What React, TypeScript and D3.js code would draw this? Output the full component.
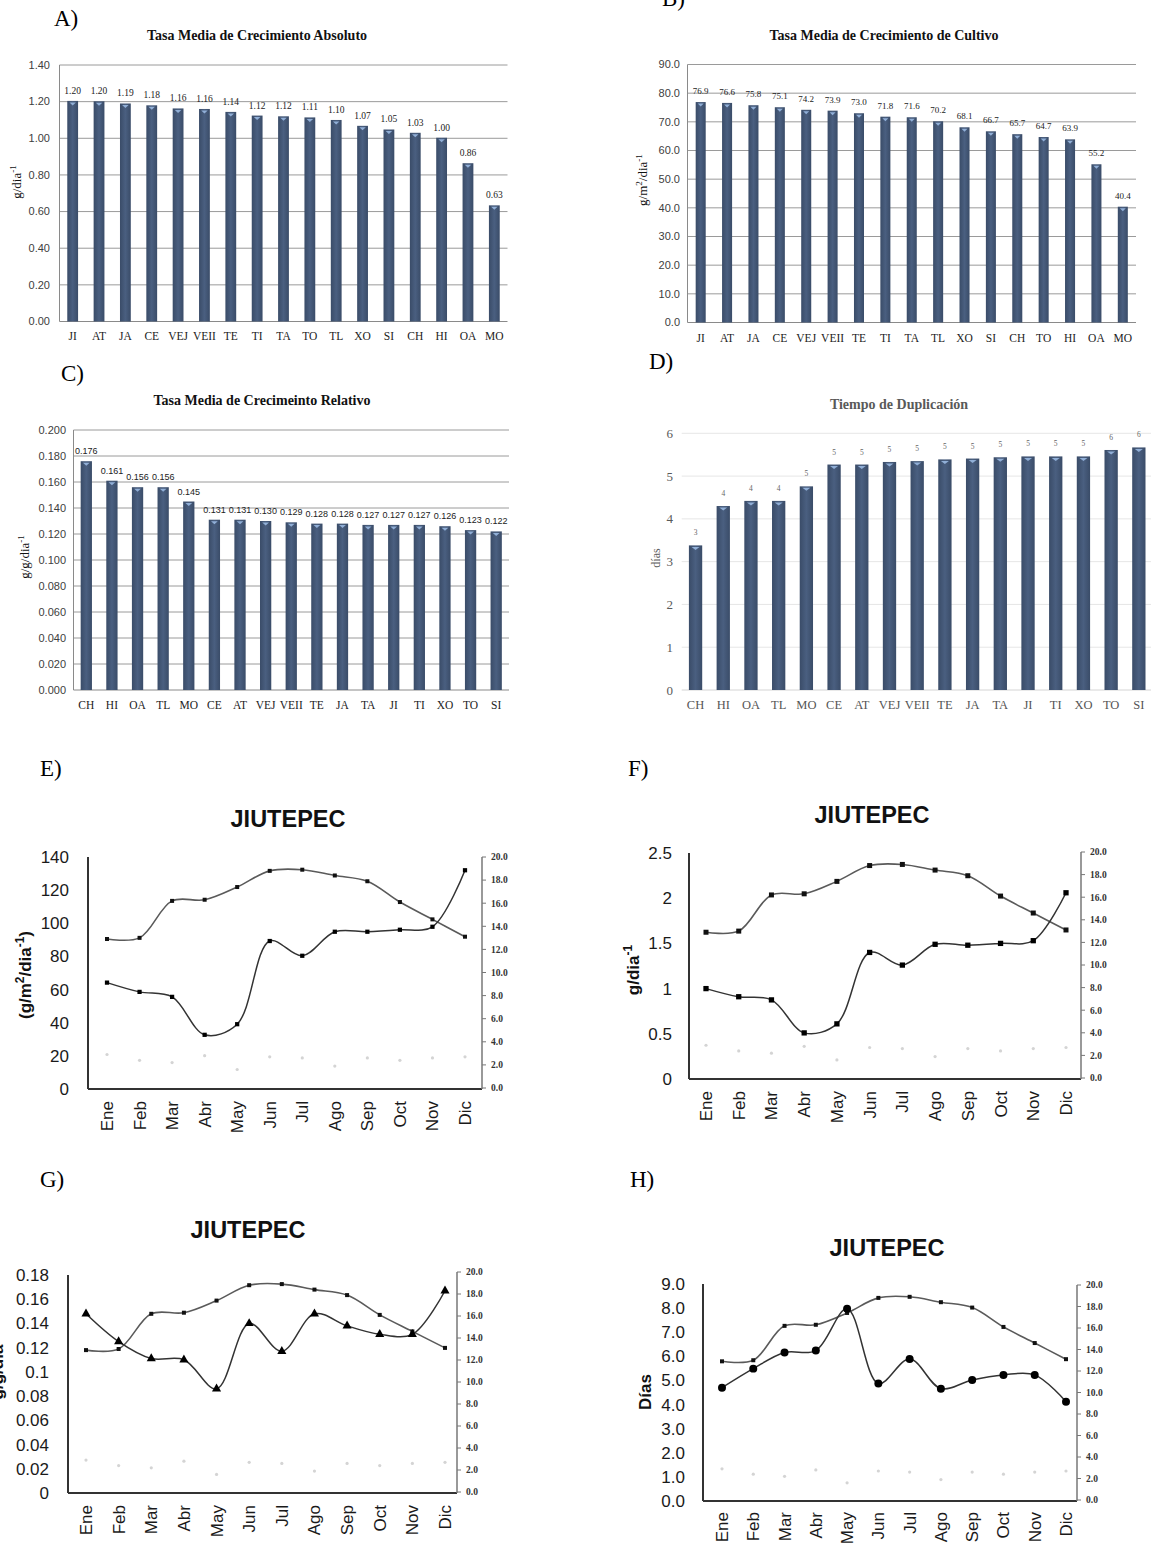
import React, { useEffect, useRef } from "react";
import * as d3 from "d3";

const W = 1151;
const H = 1544;
const SERIF = "'Liberation Serif', 'Times New Roman', serif";
const SANS = "'Liberation Sans', Arial, sans-serif";

// A) Tasa media de crecimiento absoluto
const catsA = ["JI", "AT", "JA", "CE", "VEJ", "VEII", "TE", "TI", "TA", "TO", "TL", "XO", "SI", "CH", "HI", "OA", "MO"];
const valsA = [1.204, 1.202, 1.19, 1.18, 1.163, 1.16, 1.144, 1.124, 1.12, 1.114, 1.1, 1.068, 1.048, 1.03, 1.003, 0.864, 0.634];
const ticksA = [0, 0.2, 0.4, 0.6, 0.8, 1.0, 1.2, 1.4];

// B) Tasa media de crecimiento de cultivo
const catsB = ["JI", "AT", "JA", "CE", "VEJ", "VEII", "TE", "TI", "TA", "TL", "XO", "SI", "CH", "TO", "HI", "OA", "MO"];
const valsB = [76.9, 76.6, 75.8, 75.1, 74.2, 73.9, 73.0, 71.8, 71.6, 70.2, 68.1, 66.7, 65.7, 64.7, 63.9, 55.2, 40.4];
const ticksB = [0, 10, 20, 30, 40, 50, 60, 70, 80, 90];

// C) Tasa media de crecimiento relativo
const catsC = ["CH", "HI", "OA", "TL", "MO", "CE", "AT", "VEJ", "VEII", "TE", "JA", "TA", "JI", "TI", "XO", "TO", "SI"];
const valsC = [0.176, 0.161, 0.156, 0.156, 0.145, 0.131, 0.131, 0.13, 0.129, 0.128, 0.128, 0.127, 0.127, 0.127, 0.126, 0.123, 0.122];
const ticksC = [0, 0.02, 0.04, 0.06, 0.08, 0.1, 0.12, 0.14, 0.16, 0.18, 0.2];

// D) Tiempo de duplicacion
const catsD = ["CH", "HI", "OA", "TL", "MO", "CE", "AT", "VEJ", "VEII", "TE", "JA", "TA", "JI", "TI", "XO", "TO", "SI"];
const valsD = [3.38, 4.3, 4.42, 4.42, 4.76, 5.27, 5.27, 5.33, 5.35, 5.39, 5.41, 5.44, 5.46, 5.46, 5.46, 5.61, 5.67];
const ticksD = [0, 1, 2, 3, 4, 5, 6];

// E-H) Jiutepec, monthly
const months = ["Ene", "Feb", "Mar", "Abr", "May", "Jun", "Jul", "Ago", "Sep", "Oct", "Nov", "Dic"];
const tempSeries = [12.9, 13.0, 16.2, 16.3, 17.4, 18.8, 18.9, 18.4, 17.9, 16.1, 14.6, 13.1];
const lowSeries = [2.9, 2.4, 2.2, 2.8, 1.6, 2.7, 2.6, 1.9, 2.6, 2.4, 2.6, 2.7];
const tccSeries = [64.2, 58.6, 55.6, 32.7, 39.1, 89.3, 80.4, 94.9, 94.9, 96.1, 97.9, 132];
const tcaSeries = [1.0, 0.91, 0.875, 0.51, 0.61, 1.4, 1.26, 1.49, 1.48, 1.5, 1.53, 2.06];
const tcrSeries = [0.148, 0.125, 0.111, 0.11, 0.086, 0.14, 0.117, 0.148, 0.138, 0.131, 0.131, 0.167];
const tdSeries = [4.7, 5.49, 6.16, 6.24, 7.97, 4.87, 5.89, 4.66, 5.02, 5.23, 5.23, 4.12];
const rightTicks = [0, 2, 4, 6, 8, 10, 12, 14, 16, 18, 20];
const ticksE = [0, 20, 40, 60, 80, 100, 120, 140];
const ticksF = [0, 0.5, 1, 1.5, 2, 2.5];
const ticksG = [0, 0.02, 0.04, 0.06, 0.08, 0.1, 0.12, 0.14, 0.16, 0.18];
const ticksH = [0, 1, 2, 3, 4, 5, 6, 7, 8, 9];

function richText(sel, parts) {
  parts.forEach(([t, sup]) => {
    const ts = sel.append("tspan").text(t);
    if (sup) ts.attr("baseline-shift", "super").attr("font-size", "70%");
  });
}

function drawBars(svg, c) {
  const g = svg.append("g");
  const x = d3.scaleBand().domain(c.cats).range([c.x0, c.x1]).paddingInner(c.pad).paddingOuter(c.pad / 2);
  const y = d3.scaleLinear().domain([0, c.max]).range([c.y0, c.y1]);

  g.append("g").selectAll("line").data(c.ticks).join("line")
    .attr("x1", c.x0).attr("x2", c.x1)
    .attr("y1", (d) => y(d)).attr("y2", (d) => y(d))
    .attr("stroke", (d) => (d === 0 ? c.axis : c.grid)).attr("stroke-width", 1);
  if (c.leftLine) {
    g.append("line").attr("x1", c.x0).attr("x2", c.x0).attr("y1", y(c.max)).attr("y2", c.y0)
      .attr("stroke", c.axis);
  }
  g.append("g").selectAll("text").data(c.ticks).join("text")
    .attr("x", c.tickX).attr("y", (d) => y(d)).attr("dy", "0.35em")
    .attr("text-anchor", "end").attr("font-family", c.tickFont).attr("font-size", c.tickSize)
    .attr("fill", c.tickColor).text(c.tickFmt);

  const data = c.cats.map((k, i) => ({ k, v: c.vals[i] }));
  g.append("g").selectAll("rect").data(data).join("rect")
    .attr("x", (d) => x(d.k)).attr("y", (d) => y(d.v))
    .attr("width", x.bandwidth()).attr("height", (d) => c.y0 - y(d.v))
    .attr("fill", "url(#barGrad)");
  g.append("g").selectAll("path").data(data).join("path")
    .attr("d", (d) => {
      const cx = x(d.k) + x.bandwidth() / 2;
      const t = y(d.v);
      const hw = x.bandwidth() * 0.3;
      return `M${cx - hw},${t + 1.5}L${cx + hw},${t + 1.5}L${cx},${t + 4.5}Z`;
    })
    .attr("fill", "#9dbde6").attr("opacity", 0.85);
  g.append("g").selectAll("text").data(data).join("text")
    .attr("x", (d) => x(d.k) + x.bandwidth() / 2).attr("y", (d) => y(d.v) - c.labelGap)
    .attr("text-anchor", "middle").attr("font-family", c.labelFont).attr("font-size", c.labelSize)
    .attr("fill", c.labelColor).text((d) => c.labelFmt(d.v));
  g.append("g").selectAll("text").data(c.cats).join("text")
    .attr("x", (d) => x(d) + x.bandwidth() / 2).attr("y", c.catY)
    .attr("text-anchor", "middle").attr("font-family", SERIF).attr("font-size", c.catSize)
    .attr("fill", c.catColor).text((d) => d);

  g.append("text").attr("x", c.titleX).attr("y", c.titleY).attr("text-anchor", "middle")
    .attr("font-family", SERIF).attr("font-weight", "bold").attr("font-size", 14)
    .attr("fill", c.titleColor).text(c.title);
  const yt = g.append("text")
    .attr("transform", `translate(${c.yTitleX},${c.yTitleY}) rotate(-90)`)
    .attr("text-anchor", "middle").attr("font-family", SERIF).attr("font-size", c.yTitleSize)
    .attr("fill", c.yTitleColor);
  richText(yt, c.yTitle);
  g.append("text").attr("x", c.letterX).attr("y", c.letterY)
    .attr("font-family", SERIF).attr("font-size", 23).attr("fill", "#000").text(c.letter);
}

function drawLines(svg, c) {
  const g = svg.append("g");
  const x = d3.scalePoint().domain(months).range([c.px0, c.px1]);
  const yl = d3.scaleLinear().domain([0, c.max]).range([c.ly0, c.ly1]);
  const yr = d3.scaleLinear().domain([0, 20]).range([c.ry0, c.ry1]);

  // axes
  g.append("line").attr("x1", c.ax0).attr("x2", c.ax0).attr("y1", c.ly1).attr("y2", c.ly0)
    .attr("stroke", "#333").attr("stroke-width", 2);
  g.append("line").attr("x1", c.ax0).attr("x2", c.ax1).attr("y1", c.ly0).attr("y2", c.ly0)
    .attr("stroke", "#333").attr("stroke-width", 2);
  g.append("line").attr("x1", c.ax1).attr("x2", c.ax1).attr("y1", c.ry1).attr("y2", c.ly0)
    .attr("stroke", "#777").attr("stroke-width", 1.5);
  g.append("g").selectAll("line").data(rightTicks).join("line")
    .attr("x1", c.ax1).attr("x2", c.ax1 + 4).attr("y1", (d) => yr(d)).attr("y2", (d) => yr(d))
    .attr("stroke", "#777");
  g.append("g").selectAll("text").data(rightTicks).join("text")
    .attr("x", c.ax1 + 9).attr("y", (d) => yr(d)).attr("dy", "0.35em")
    .attr("font-family", SERIF).attr("font-weight", "bold").attr("font-size", 9.5)
    .attr("fill", "#333").text((d) => d.toFixed(1));
  g.append("g").selectAll("text").data(c.ticks).join("text")
    .attr("x", c.tickX).attr("y", (d) => yl(d)).attr("dy", "0.35em").attr("text-anchor", "end")
    .attr("font-family", SANS).attr("font-size", 17).attr("fill", "#1a1a1a").text(c.tickFmt);
  g.append("g").selectAll("text").data(months).join("text")
    .attr("transform", (d) => `translate(${x(d) + 6},${c.ly0 + c.monthGap}) rotate(-90)`)
    .attr("text-anchor", "end").attr("font-family", SANS).attr("font-size", 17)
    .attr("fill", "#1a1a1a").text((d) => d);

  const smooth = d3.curveCatmullRom.alpha(0.5);
  // faint points
  g.append("g").selectAll("circle").data(lowSeries).join("circle")
    .attr("cx", (d, i) => x(months[i])).attr("cy", (d) => yr(d)).attr("r", 1.6).attr("fill", "#d4d4d4");

  // secondary series (0-20)
  const lineR = d3.line().x((d, i) => x(months[i])).y((d) => yr(d)).curve(smooth);
  g.append("path").datum(tempSeries).attr("d", lineR).attr("fill", "none")
    .attr("stroke", "#5a5a5a").attr("stroke-width", 1.6);
  g.append("g").selectAll("rect").data(tempSeries).join("rect")
    .attr("x", (d, i) => x(months[i]) - c.sq / 2).attr("y", (d) => yr(d) - c.sq / 2)
    .attr("width", c.sq).attr("height", c.sq).attr("fill", "#111");

  // main series
  const lineL = d3.line().x((d, i) => x(months[i])).y((d) => yl(d)).curve(smooth);
  g.append("path").datum(c.series).attr("d", lineL).attr("fill", "none")
    .attr("stroke", "#333").attr("stroke-width", 1.5);
  const sym = c.marker === "triangle" ? d3.symbolTriangle : c.marker === "circle" ? d3.symbolCircle : d3.symbolSquare;
  g.append("g").selectAll("path").data(c.series).join("path")
    .attr("transform", (d, i) => `translate(${x(months[i])},${yl(d)})`)
    .attr("d", d3.symbol(sym, c.markerSize)).attr("fill", "#000");

  g.append("text").attr("x", c.titleX).attr("y", c.titleY).attr("text-anchor", "middle")
    .attr("font-family", SANS).attr("font-weight", "bold").attr("font-size", 23.5)
    .attr("fill", "#111").text("JIUTEPEC");
  const yt = g.append("text")
    .attr("transform", `translate(${c.yTitleX},${c.yTitleY}) rotate(-90)`)
    .attr("text-anchor", "middle").attr("font-family", SANS).attr("font-weight", "bold")
    .attr("font-size", 17).attr("fill", "#111");
  richText(yt, c.yTitle);
  g.append("text").attr("x", c.letterX).attr("y", c.letterY)
    .attr("font-family", SERIF).attr("font-size", 23).attr("fill", "#000").text(c.letter);
}

export default function App() {
  const svgRef = useRef(null);

  useEffect(() => {
    const svg = d3.select(svgRef.current);
    svg.selectAll("*").remove();

    const grad = svg.append("defs").append("linearGradient").attr("id", "barGrad")
      .attr("x1", "0").attr("x2", "1").attr("y1", "0").attr("y2", "0");
    grad.append("stop").attr("offset", "0%").attr("stop-color", "#3a4c68");
    grad.append("stop").attr("offset", "50%").attr("stop-color", "#4a5f80");
    grad.append("stop").attr("offset", "100%").attr("stop-color", "#3a4c68");
    svg.append("rect").attr("width", W).attr("height", H).attr("fill", "#fff");

    drawBars(svg, {
      cats: catsA, vals: valsA, ticks: ticksA, max: 1.4, pad: 0.59,
      x0: 59.5, x1: 507.5, y0: 321.5, y1: 65,
      grid: "#9a9a9a", axis: "#8a8a8a", leftLine: true,
      tickX: 50, tickFont: SANS, tickSize: 11, tickColor: "#404040", tickFmt: (d) => d.toFixed(2),
      labelGap: 7, labelFont: SERIF, labelSize: 9.5, labelColor: "#222", labelFmt: (v) => v.toFixed(2),
      catY: 340, catSize: 11.5, catColor: "#222",
      title: "Tasa Media de Crecimiento Absoluto", titleX: 257, titleY: 40, titleColor: "#111",
      yTitle: [["g/dia", false], ["-1", true]], yTitleX: 21, yTitleY: 182, yTitleSize: 13, yTitleColor: "#111",
      letter: "A)", letterX: 54, letterY: 26,
    });

    drawBars(svg, {
      cats: catsB, vals: valsB, ticks: ticksB, max: 90, pad: 0.62,
      x0: 687.5, x1: 1136, y0: 322.5, y1: 64.5,
      grid: "#9a9a9a", axis: "#8a8a8a", leftLine: true,
      tickX: 680, tickFont: SANS, tickSize: 11, tickColor: "#404040", tickFmt: (d) => d.toFixed(1),
      labelGap: 8, labelFont: SERIF, labelSize: 9, labelColor: "#222", labelFmt: (v) => v.toFixed(1),
      catY: 342, catSize: 11.5, catColor: "#222",
      title: "Tasa Media de Crecimiento de Cultivo", titleX: 884, titleY: 40, titleColor: "#111",
      yTitle: [["g/m", false], ["2", true], ["/dia", false], ["-1", true]], yTitleX: 647, yTitleY: 180, yTitleSize: 13, yTitleColor: "#111",
      letter: "B)", letterX: 662, letterY: 6,
    });

    drawBars(svg, {
      cats: catsC, vals: valsC, ticks: ticksC, max: 0.2, pad: 0.56,
      x0: 73.5, x1: 509, y0: 690, y1: 430,
      grid: "#9a9a9a", axis: "#8a8a8a", leftLine: true,
      tickX: 66, tickFont: SANS, tickSize: 11, tickColor: "#404040", tickFmt: (d) => d.toFixed(3),
      labelGap: 7, labelFont: SANS, labelSize: 9, labelColor: "#222", labelFmt: (v) => v.toFixed(3),
      catY: 709, catSize: 11.5, catColor: "#222",
      title: "Tasa Media de Crecimeinto Relativo", titleX: 262, titleY: 405, titleColor: "#111",
      yTitle: [["g/g/dia", false], ["-1", true]], yTitleX: 29, yTitleY: 557, yTitleSize: 13, yTitleColor: "#111",
      letter: "C)", letterX: 61, letterY: 381,
    });

    drawBars(svg, {
      cats: catsD, vals: valsD, ticks: ticksD, max: 6, pad: 0.52,
      x0: 681.7, x1: 1152.7, y0: 690, y1: 433.3,
      grid: "#e6e6e6", axis: "#d4d4d4", leftLine: false,
      tickX: 673, tickFont: SERIF, tickSize: 13, tickColor: "#595959", tickFmt: (d) => String(d),
      labelGap: 10, labelFont: SERIF, labelSize: 7.5, labelColor: "#666", labelFmt: (v) => String(Math.round(v)),
      catY: 709, catSize: 12.5, catColor: "#555",
      title: "Tiempo de Duplicación", titleX: 899, titleY: 409, titleColor: "#595959",
      yTitle: [["días", false]], yTitleX: 660, yTitleY: 558, yTitleSize: 12, yTitleColor: "#595959",
      letter: "D)", letterX: 649, letterY: 369,
    });

    drawLines(svg, {
      series: tccSeries, max: 140, ticks: ticksE, tickFmt: (d) => String(d), marker: "square", markerSize: 18, sq: 4,
      px0: 107, px1: 465, ax0: 88, ax1: 482, ly0: 1089, ly1: 857, ry0: 1088, ry1: 857,
      tickX: 69, monthGap: 12,
      titleX: 288, titleY: 827, yTitleX: 31, yTitleY: 975,
      yTitle: [["(g/m", false], ["2", true], ["/dia", false], ["-1", true], [")", false]],
      letter: "E)", letterX: 40, letterY: 776,
    });

    drawLines(svg, {
      series: tcaSeries, max: 2.5, ticks: ticksF, tickFmt: (d) => String(d), marker: "square", markerSize: 28, sq: 5,
      px0: 706, px1: 1066, ax0: 689, ax1: 1081, ly0: 1079, ly1: 853, ry0: 1078, ry1: 852,
      tickX: 672, monthGap: 12,
      titleX: 872, titleY: 823, yTitleX: 639, yTitleY: 970,
      yTitle: [["g/dia", false], ["-1", true]],
      letter: "F)", letterX: 628, letterY: 776,
    });

    drawLines(svg, {
      series: tcrSeries, max: 0.18, ticks: ticksG, tickFmt: (d) => String(d), marker: "triangle", markerSize: 36, sq: 4,
      px0: 86, px1: 445, ax0: 68, ax1: 457, ly0: 1493, ly1: 1275, ry0: 1492, ry1: 1272,
      tickX: 49, monthGap: 12,
      titleX: 248, titleY: 1238, yTitleX: 3, yTitleY: 1372,
      yTitle: [["g/g/día", false]],
      letter: "G)", letterX: 40, letterY: 1187,
    });

    drawLines(svg, {
      series: tdSeries, max: 9, ticks: ticksH, tickFmt: (d) => d.toFixed(1), marker: "circle", markerSize: 50, sq: 4,
      px0: 722, px1: 1066, ax0: 703, ax1: 1077, ly0: 1501, ly1: 1284, ry0: 1500, ry1: 1285,
      tickX: 685, monthGap: 11,
      titleX: 887, titleY: 1256, yTitleX: 651, yTitleY: 1392,
      yTitle: [["Días", false]],
      letter: "H)", letterX: 630, letterY: 1187,
    });
  }, []);

  return (
    <svg
      ref={svgRef}
      width={W}
      height={H}
      style={{ position: "absolute", left: 0, top: 0, background: "#fff" }}
    />
  );
}
